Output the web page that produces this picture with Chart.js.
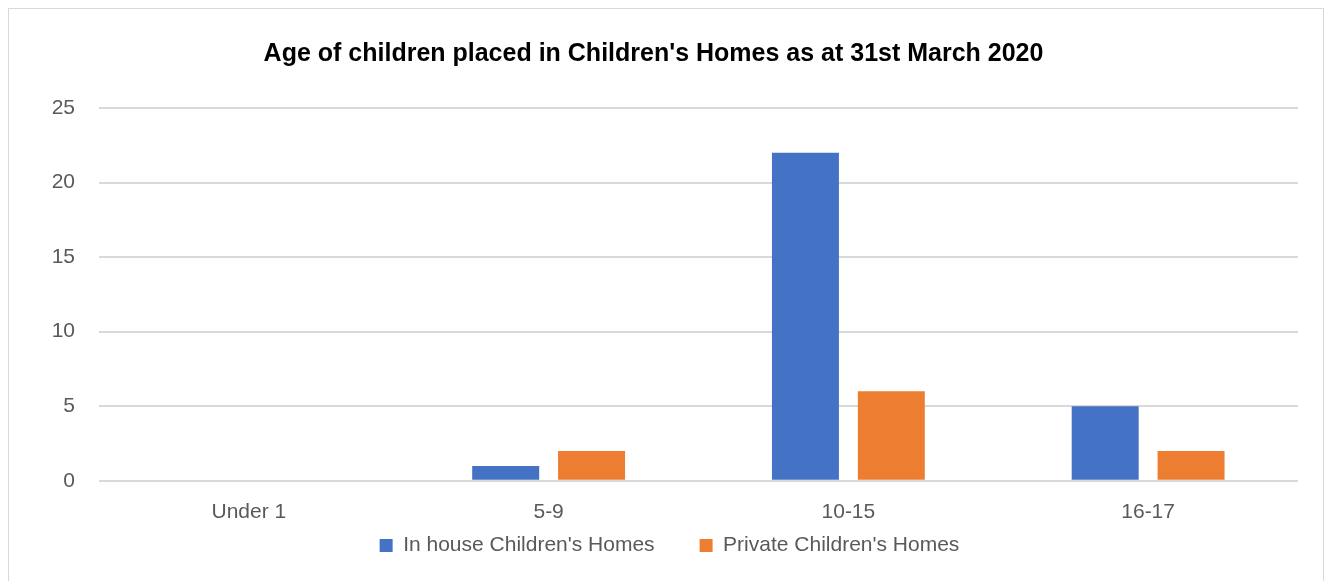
<!DOCTYPE html>
<html>
<head>
<meta charset="utf-8">
<script src="https://cdn.jsdelivr.net/npm/chart.js@4"></script>
<style>
  html, body { margin: 0; padding: 0; background: #fff; overflow: hidden; }
  #wrap {
    position: absolute; left: 8px; top: 8px;
    width: 1316px; height: 600px;
    border: 1px solid #d9d9d9; box-sizing: border-box; background: #fff;
  }
  #box { position: relative; width: 1314px; height: 557px; }
</style>
</head>
<body>
<div id="wrap"><div id="box"><canvas id="chart"></canvas></div></div>
<script>
// Age groups and counts per home type
const ageGroups = ['Under 1', '5-9', '10-15', '16-17'];
const inHouseHomes = [0, 1, 22, 5];
const privateHomes = [0, 2, 6, 2];
const yTicks = [0, 5, 10, 15, 20, 25];

const FONT = "'Liberation Sans', Arial, sans-serif";
const GREY = '#595959';
const LEGEND_GAP = 45;   // horizontal space between legend entries
const LEGEND_LIFT = 54;  // vertical space the wide gap would otherwise eat
const LEGEND_SHIFT = 16;

// legend padding is used both across and down; keep the wide gap across only
const legendGap = {
    id: 'legendGap',
    beforeLayout(chart) {
        const lg = chart.legend;
        if (!lg || lg._gapPatched) return;
        const fit = lg.fit;
        lg.fit = function () { fit.call(this); this.height -= LEGEND_LIFT; };
        lg._gapPatched = true;
    },
    afterLayout(chart) {
        const lg = chart.legend;
        if (!lg) return;
        // grow the box upward so the clip region still holds the entries
        lg.top -= LEGEND_LIFT;
        lg.height += LEGEND_LIFT;
        lg.left += LEGEND_SHIFT; lg.right += LEGEND_SHIFT;
    }
};

const chart = new Chart(document.getElementById('chart'), {
    type: 'bar',
    data: {
        labels: ageGroups,
        datasets: [
            { label: "In house Children's Homes", data: inHouseHomes, backgroundColor: '#4472c4', categoryPercentage: 0.573, barPercentage: 0.78 },
            { label: "Private Children's Homes", data: privateHomes, backgroundColor: '#ed7d31', categoryPercentage: 0.573, barPercentage: 0.78 }
        ]
    },
    plugins: [legendGap],
    options: {
        responsive: true,
        maintainAspectRatio: false,
        animation: false,
        layout: { padding: { left: 0, right: 25, top: 0, bottom: 0 } },
        plugins: {
            title: {
                display: true,
                text: "Age of children placed in Children's Homes as at 31st March 2020",
                color: '#000',
                font: { family: FONT, size: 25, weight: 'bold' },
                padding: { top: 30, bottom: 39 }
            },
            legend: {
                position: 'bottom',
                labels: {
                    color: GREY,
                    font: { family: FONT, size: 21 },
                    boxWidth: 13,
                    boxHeight: 13,
                    padding: LEGEND_GAP
                }
            },
            tooltip: { enabled: false }
        },
        scales: {
            x: {
                grid: { display: false, drawTicks: false },
                border: { display: false },
                ticks: { color: GREY, font: { family: FONT, size: 21 }, padding: 19 }
            },
            y: {
                min: 0,
                max: 25,
                afterBuildTicks: s => { s.ticks = yTicks.map(v => ({ value: v })); },
                afterFit: s => { s.width = 90; },
                grid: { color: '#d9d9d9', lineWidth: 2, drawTicks: false },
                border: { display: false },
                ticks: { color: GREY, font: { family: FONT, size: 21 }, padding: 24 }
            }
        }
    }
});
</script>
</body>
</html>
